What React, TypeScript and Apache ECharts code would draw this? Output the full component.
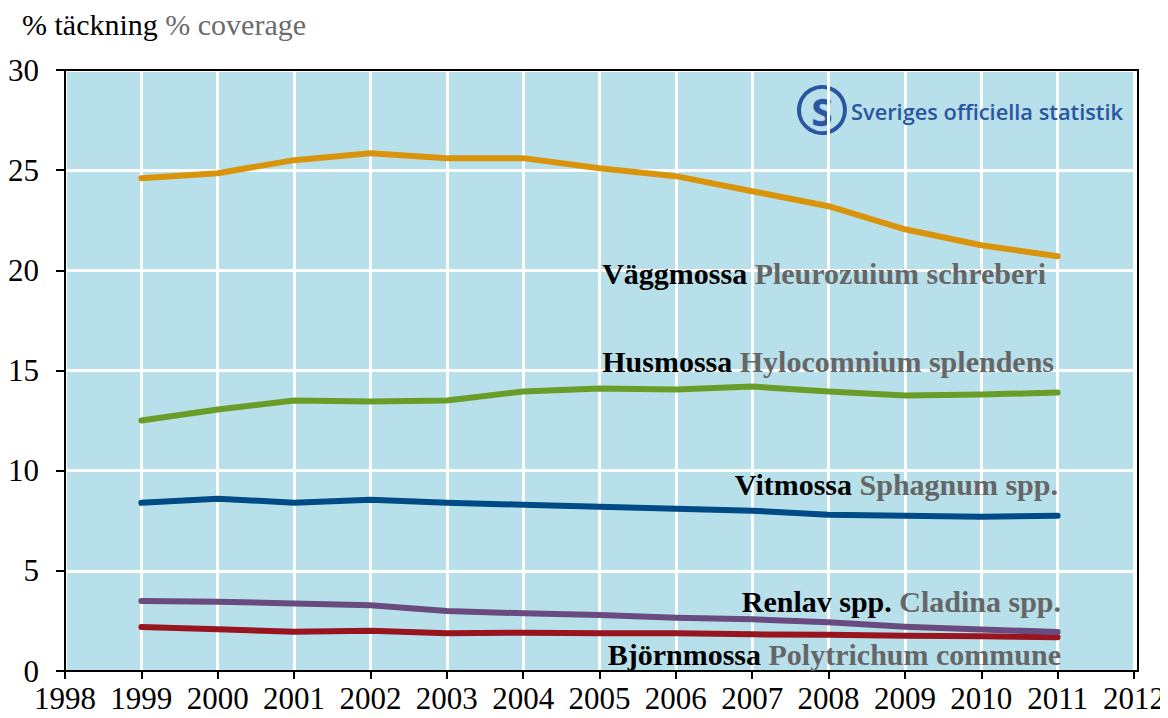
import React, { useEffect, useRef } from "react";
import * as echarts from "echarts";

const years = [1999, 2000, 2001, 2002, 2003, 2004, 2005, 2006, 2007, 2008, 2009, 2010, 2011];
const vaggmossa = [24.6, 24.85, 25.5, 25.85, 25.6, 25.6, 25.1, 24.7, 23.95, 23.2, 22.05, 21.25, 20.7];
const husmossa = [12.5, 13.05, 13.5, 13.45, 13.5, 13.95, 14.1, 14.05, 14.2, 13.95, 13.75, 13.8, 13.9];
const vitmossa = [8.4, 8.6, 8.4, 8.55, 8.4, 8.3, 8.2, 8.1, 8.0, 7.8, 7.75, 7.7, 7.75];
const renlav = [3.5, 3.46, 3.37, 3.28, 3.0, 2.88, 2.79, 2.66, 2.58, 2.43, 2.21, 2.07, 1.95];
const bjornmossa = [2.2, 2.08, 1.96, 2.01, 1.88, 1.91, 1.89, 1.88, 1.83, 1.81, 1.76, 1.73, 1.69];

const seriesNames = ["Väggmossa", "Husmossa", "Vitmossa", "Renlav", "Björnmossa"];
const latinNames = ["Pleurozuium schreberi", "Hylocomnium splendens", "Sphagnum spp.", "Cladina spp.", "Polytrichum commune"];
const swedishLabels = ["Väggmossa", "Husmossa", "Vitmossa", "Renlav spp.", "Björnmossa"];
const seriesData = [vaggmossa, husmossa, vitmossa, renlav, bjornmossa];
const colors = ["#d9940c", "#6a9d28", "#004a85", "#6a4b80", "#98141e"];
const yTicks = [0, 5, 10, 15, 20, 25, 30];

const SERIF = "Liberation Serif";
const NB = "\u00a0";

export default function App() {
  const ref = useRef<HTMLDivElement>(null);
  useEffect(() => {
    const chart = echarts.init(ref.current!, null, { renderer: "svg" });
    const labelPos = [
      { x: 1046, y: 273 },
      { x: 1054, y: 361 },
      { x: 1058, y: 484 },
      { x: 1061, y: 601 },
      { x: 1061, y: 654 },
    ];
    chart.setOption({
      animation: false,
      textStyle: { fontFamily: SERIF },
      grid: {
        left: 65,
        right: 30,
        top: 70,
        bottom: 47,
        show: true,
        backgroundColor: "#b8e0ea",
        borderWidth: 0,
      },
      xAxis: {
        type: "value",
        min: 1998,
        max: 2012,
        interval: 1,
        axisLine: { show: true, lineStyle: { color: "#000", width: 2 } },
        axisTick: { show: true, length: 8, lineStyle: { color: "#000", width: 2 } },
        axisLabel: {
          color: "#000",
          fontFamily: SERIF,
          fontSize: 31,
          margin: 12,
          formatter: (v: number) => String(v),
        },
        splitLine: { show: true, lineStyle: { color: "#fff", width: 3 } },
      },
      yAxis: {
        type: "value",
        min: yTicks[0],
        max: yTicks[yTicks.length - 1],
        interval: 5,
        axisLine: { show: true, lineStyle: { color: "#000", width: 2 } },
        axisTick: { show: true, length: 9, lineStyle: { color: "#000", width: 2 } },
        axisLabel: { color: "#000", fontFamily: SERIF, fontSize: 31, margin: 26 },
        splitLine: { show: true, lineStyle: { color: "#fff", width: 3 } },
      },
      series: seriesData.map((d, i) => ({
        name: seriesNames[i],
        type: "line",
        data: d.map((v, j) => [years[j], v]),
        showSymbol: false,
        symbol: "none",
        lineStyle: { color: colors[i], width: 6, cap: "round", join: "round" },
        z: 5 - i,
      })),
      graphic: [
        {
          type: "rect",
          z: 50,
          silent: true,
          shape: { x: 65, y: 70, width: 1073, height: 601 },
          style: { fill: "none", stroke: "#000", lineWidth: 2 },
        },
        {
          type: "text",
          x: 22,
          y: 24,
          style: {
            text: `{a|%${NB}täckning${NB}}{b|%${NB}coverage}`,
            verticalAlign: "middle",
            rich: {
              a: { fontFamily: SERIF, fontSize: 30, fill: "#000" },
              b: { fontFamily: SERIF, fontSize: 30, fill: "#6b6b6b" },
            },
          },
        },
        ...labelPos.map((p, i) => ({
          type: "text",
          x: p.x,
          y: p.y,
          z: 100,
          style: {
            text: `{a|${swedishLabels[i].replace(/ /g, NB)}${NB}}{b|${latinNames[i].replace(/ /g, NB)}}`,
            align: "right",
            verticalAlign: "middle",
            rich: {
              a: { fontFamily: SERIF, fontSize: 30, fontWeight: "bold", fill: "#000" },
              b: { fontFamily: SERIF, fontSize: 30, fontWeight: "bold", fill: "#666666" },
            },
          },
        })),
        {
          type: "group",
          x: 822,
          y: 110,
          z: 100,
          children: [
            { type: "circle", shape: { cx: 0, cy: 0, r: 23 }, style: { fill: "none", stroke: "#2a55a0", lineWidth: 4 } },
            {
              type: "text",
              x: 0,
              y: 1,
              style: {
                text: "S",
                align: "center",
                verticalAlign: "middle",
                fontFamily: "Open Sans",
                fontWeight: "bold",
                fontSize: 38,
                fill: "#2a55a0",
                stroke: "#7fb3e0",
                lineWidth: 1,
              },
            },
          ],
        },
        {
          type: "text",
          x: 851,
          y: 111,
          z: 100,
          style: {
            text: "Sveriges officiella statistik",
            verticalAlign: "middle",
            fontFamily: "Open Sans",
            fontWeight: 600,
            fontSize: 21.8,
            fill: "#2a55a0",
          },
        },
      ],
    });
    return () => chart.dispose();
  }, []);
  return <div ref={ref} style={{ width: 1168, height: 718, margin: -8 }} />;
}
